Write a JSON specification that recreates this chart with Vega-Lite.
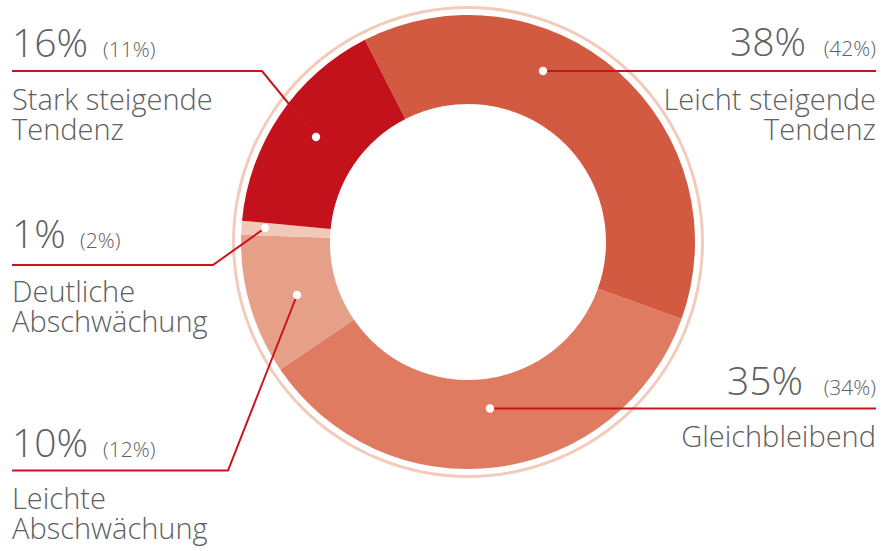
{
  "$schema": "https://vega.github.io/schema/vega-lite/v6.json",
  "width": 884,
  "height": 551,
  "autosize": {"type": "fit", "contains": "padding"},
  "padding": 0,
  "background": "white",
  "config": {"view": {"stroke": null}, "text": {"font": "Open Sans", "fontWeight": 300, "color": "#606060"}},
  "datasets": {
    "slices": [
      {"cat": "Leicht steigende Tendenz", "v": 38, "o": 1},
      {"cat": "Gleichbleibend", "v": 35, "o": 2},
      {"cat": "Leichte Abschwächung", "v": 10, "o": 3},
      {"cat": "Deutliche Abschwächung", "v": 1, "o": 4},
      {"cat": "Stark steigende Tendenz", "v": 16, "o": 5}
    ],
    "leaders": [
      {"id": "a", "k": 0, "x": 12, "y": 71}, {"id": "a", "k": 1, "x": 262, "y": 71}, {"id": "a", "k": 2, "x": 316, "y": 137},
      {"id": "b", "k": 0, "x": 12, "y": 265}, {"id": "b", "k": 1, "x": 213, "y": 265}, {"id": "b", "k": 2, "x": 265, "y": 228},
      {"id": "c", "k": 0, "x": 12, "y": 470.5}, {"id": "c", "k": 1, "x": 228, "y": 470.5}, {"id": "c", "k": 2, "x": 297, "y": 295},
      {"id": "d", "k": 0, "x": 543, "y": 71}, {"id": "d", "k": 1, "x": 876, "y": 71},
      {"id": "e", "k": 0, "x": 490, "y": 408.5}, {"id": "e", "k": 1, "x": 876, "y": 408.5}
    ],
    "dots": [
      {"x": 316, "y": 137}, {"x": 265, "y": 228}, {"x": 297, "y": 295}, {"x": 543, "y": 71}, {"x": 490, "y": 408.5}
    ],
    "labels": [
      {"side": "L", "big": "16%", "small": "(11%)", "bx": 12, "sx": 103, "by": 57, "lines": ["Stark steigende", "Tendenz"], "ly": 110},
      {"side": "L", "big": "1%", "small": "(2%)", "bx": 12, "sx": 80, "by": 248, "lines": ["Deutliche", "Abschwächung"], "ly": 302},
      {"side": "L", "big": "10%", "small": "(12%)", "bx": 12, "sx": 103, "by": 457, "lines": ["Leichte", "Abschwächung"], "ly": 509},
      {"side": "R", "big": "38%", "small": "(42%)", "bx": 806, "sx": 876, "by": 56, "lines": ["Leicht steigende", "Tendenz"], "ly": 110},
      {"side": "R", "big": "35%", "small": "(34%)", "bx": 803, "sx": 876, "by": 395, "lines": ["Gleichbleibend"], "ly": 447}
    ]
  },
  "layer": [
    {
      "data": {"values": [{"ring": 1}]},
      "mark": {"type": "arc", "radius": 236, "radius2": 233, "theta": 0, "theta2": 6.2832, "fill": "#f2cbbb"},
      "encoding": {
        "x": {"datum": 468, "type": "quantitative", "scale": {"domain": [0, 884], "nice": false, "zero": false, "padding": 0}, "axis": null},
        "y": {"datum": 242, "type": "quantitative", "scale": {"domain": [0, 551], "nice": false, "zero": false, "padding": 0, "reverse": true}, "axis": null}
      }
    },
    {
      "data": {"name": "slices"},
      "mark": {"type": "arc", "radius": 227, "radius2": 138},
      "encoding": {
        "x": {"datum": 468, "type": "quantitative"},
        "y": {"datum": 242, "type": "quantitative"},
        "theta": {"field": "v", "type": "quantitative", "stack": true, "scale": {"range": [-0.4712, 5.812]}},
        "order": {"field": "o", "type": "quantitative", "sort": "ascending"},
        "color": {
          "field": "cat", "type": "nominal", "legend": null,
          "scale": {
            "domain": ["Leicht steigende Tendenz", "Gleichbleibend", "Leichte Abschwächung", "Deutliche Abschwächung", "Stark steigende Tendenz"],
            "range": ["#d25a40", "#de7b60", "#e6a087", "#f2c9b8", "#c4121c"]
          }
        }
      }
    },
    {
      "data": {"name": "leaders"},
      "mark": {"type": "line", "color": "#c8141e", "strokeWidth": 2},
      "encoding": {
        "x": {"field": "x", "type": "quantitative"},
        "y": {"field": "y", "type": "quantitative"},
        "detail": {"field": "id"},
        "order": {"field": "k", "type": "quantitative"}
      }
    },
    {
      "data": {"name": "dots"},
      "mark": {"type": "circle", "size": 70, "fill": "white", "opacity": 1},
      "encoding": {
        "x": {"field": "x", "type": "quantitative"},
        "y": {"field": "y", "type": "quantitative"}
      }
    },
    {
      "data": {"name": "labels"},
      "transform": [{"filter": "datum.side == 'L'"}],
      "layer": [
        {"mark": {"type": "text", "align": "left", "baseline": "alphabetic", "fontSize": 39},
         "encoding": {"x": {"field": "bx", "type": "quantitative"}, "y": {"field": "by", "type": "quantitative"}, "text": {"field": "big"}}},
        {"mark": {"type": "text", "align": "left", "baseline": "alphabetic", "fontSize": 21},
         "encoding": {"x": {"field": "sx", "type": "quantitative"}, "y": {"field": "by", "type": "quantitative"}, "text": {"field": "small"}}},
        {"mark": {"type": "text", "align": "left", "baseline": "alphabetic", "fontSize": 29, "lineHeight": 30},
         "encoding": {"x": {"field": "bx", "type": "quantitative"}, "y": {"field": "ly", "type": "quantitative"}, "text": {"field": "lines"}}}
      ]
    },
    {
      "data": {"name": "labels"},
      "transform": [{"filter": "datum.side == 'R'"}],
      "layer": [
        {"mark": {"type": "text", "align": "right", "baseline": "alphabetic", "fontSize": 39},
         "encoding": {"x": {"field": "bx", "type": "quantitative"}, "y": {"field": "by", "type": "quantitative"}, "text": {"field": "big"}}},
        {"mark": {"type": "text", "align": "right", "baseline": "alphabetic", "fontSize": 21},
         "encoding": {"x": {"field": "sx", "type": "quantitative"}, "y": {"field": "by", "type": "quantitative"}, "text": {"field": "small"}}},
        {"mark": {"type": "text", "align": "right", "baseline": "alphabetic", "fontSize": 29, "lineHeight": 30},
         "encoding": {"x": {"field": "sx", "type": "quantitative"}, "y": {"field": "ly", "type": "quantitative"}, "text": {"field": "lines"}}}
      ]
    }
  ]
}
